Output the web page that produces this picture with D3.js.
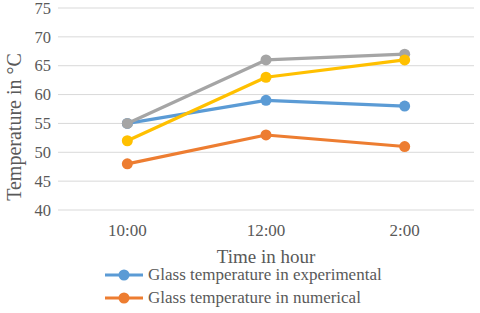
<!DOCTYPE html>
<html>
<head>
<meta charset="utf-8">
<script src="https://cdn.jsdelivr.net/npm/d3@7"></script>
<style>
  body { margin: 0; background: #fff; }
  text { font-family: "Liberation Serif", "Times New Roman", serif; fill: #595959; }
</style>
</head>
<body>
<div class="graph_container"></div>
<script>
// data
const times = ["10:00", "12:00", "2:00"];
const yTicks = [40, 45, 50, 55, 60, 65, 70, 75];
const seriesNames = ["Glass temperature in experimental", "Glass temperature in numerical", "Series 3", "Series 4"];
const seriesColors = ["#5B9BD5", "#ED7D31", "#A5A5A5", "#FFC000"];
const expValues = [55, 59, 58];
const numValues = [48, 53, 51];
const greyValues = [55, 66, 67];
const yellowValues = [52, 63, 66];
const allSeries = [expValues, numValues, greyValues, yellowValues];

const W = 480, H = 313;
const margin_left = 58, margin_right = 6, margin_top = 8, margin_bottom = 103;
const width = W - margin_left - margin_right;
const height = H - margin_top - margin_bottom;

const svg = d3.select(".graph_container").append("svg")
  .attr("width", W).attr("height", H);
const g = svg.append("g").attr("transform", "translate(" + margin_left + "," + margin_top + ")");

const xScale = d3.scaleBand().domain(times).range([0, width]);
const yScale = d3.scaleLinear().domain([40, 75]).range([height, 0]);

// gridlines
g.selectAll(".grid").data(yTicks).enter().append("line")
  .attr("x1", 0).attr("x2", width)
  .attr("y1", d => yScale(d)).attr("y2", d => yScale(d))
  .attr("stroke", "#d9d9d9").attr("stroke-width", 1);

// y axis
const yAxis = g.append("g").call(d3.axisLeft(yScale).tickValues(yTicks).tickSize(0).tickPadding(7));
yAxis.select(".domain").remove();
yAxis.selectAll("text").style("font-size", "16.5px").attr("fill", "#595959")
  .style("font-family", "Liberation Serif, serif");

// x axis
const xAxis = g.append("g").attr("transform", "translate(0," + height + ")")
  .call(d3.axisBottom(xScale).tickSize(0).tickPadding(14));
xAxis.select(".domain").remove();
xAxis.selectAll("text").style("font-size", "17px").attr("fill", "#595959")
  .style("font-family", "Liberation Serif, serif");

// axis titles
svg.append("text").attr("x", margin_left + width / 2).attr("y", 263)
  .attr("text-anchor", "middle").style("font-size", "19px").text("Time in hour");
svg.append("text").attr("transform", "translate(21," + 127 + ") rotate(-90)")
  .attr("text-anchor", "middle").style("font-size", "20px").text("Temperature in \u00B0C");

// lines
const line = d3.line()
  .x((d, i) => xScale(times[i]) + xScale.bandwidth() / 2)
  .y(d => yScale(d));

allSeries.forEach((vals, s) => {
  g.append("path").datum(vals).attr("d", line)
    .attr("fill", "none").attr("stroke", seriesColors[s]).attr("stroke-width", 3.2)
    .attr("stroke-linejoin", "round");
  g.selectAll(".pt" + s).data(vals).enter().append("circle")
    .attr("cx", (d, i) => xScale(times[i]) + xScale.bandwidth() / 2)
    .attr("cy", d => yScale(d))
    .attr("r", 5.5).attr("fill", seriesColors[s]);
});

// legend (only first two series visible)
const legend = svg.append("g").attr("transform", "translate(105,275)");
[0, 1].forEach((s, i) => {
  const lg = legend.append("g").attr("transform", "translate(0," + i * 23 + ")");
  lg.append("line").attr("x1", 0).attr("x2", 38).attr("y1", 0).attr("y2", 0)
    .attr("stroke", seriesColors[s]).attr("stroke-width", 3.2);
  lg.append("circle").attr("cx", 19).attr("cy", 0).attr("r", 5.5).attr("fill", seriesColors[s]);
  lg.append("text").attr("x", 43).attr("y", 5).style("font-size", "17px").text(seriesNames[s]);
});
</script>
</body>
</html>
